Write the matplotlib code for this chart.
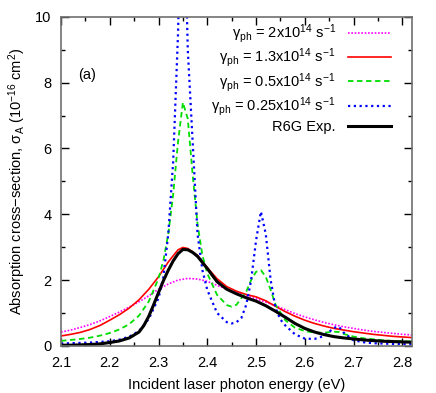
import matplotlib
matplotlib.use("Agg")
import matplotlib.pyplot as plt
from matplotlib.ticker import MultipleLocator

plt.rcParams['font.family'] = ['Liberation Sans', 'DejaVu Sans']
plt.rcParams['mathtext.fontset'] = 'custom'
plt.rcParams['mathtext.rm'] = 'Liberation Sans'
plt.rcParams['mathtext.it'] = 'Liberation Sans:italic'
plt.rcParams['font.size'] = 10

# energies (eV) and cross-sections (1e-16 cm^2)
e_pink = [2.10, 2.12, 2.14, 2.16, 2.18, 2.20, 2.22, 2.24, 2.26, 2.28, 2.30, 2.32, 2.34, 2.36,
          2.38, 2.40, 2.42, 2.44, 2.46, 2.48, 2.50, 2.52, 2.54, 2.56, 2.58, 2.60, 2.62, 2.64,
          2.66, 2.68, 2.70, 2.72, 2.74, 2.76, 2.78, 2.80, 2.82]
s_pink = [0.42, 0.48, 0.56, 0.65, 0.76, 0.89, 1.03, 1.18, 1.34, 1.52, 1.72, 1.88, 2.00, 2.05,
          2.03, 1.96, 1.84, 1.72, 1.62, 1.52, 1.43, 1.33, 1.22, 1.10, 0.98, 0.88, 0.79, 0.71,
          0.64, 0.58, 0.53, 0.48, 0.44, 0.41, 0.38, 0.35, 0.33]

e_red = [2.10, 2.12, 2.14, 2.16, 2.18, 2.20, 2.22, 2.24, 2.26, 2.28, 2.30, 2.32, 2.34, 2.35,
         2.36, 2.38, 2.40, 2.42, 2.44, 2.46, 2.48, 2.50, 2.52, 2.54, 2.56, 2.58, 2.60, 2.62,
         2.64, 2.66, 2.68, 2.70, 2.72, 2.74, 2.76, 2.78, 2.80, 2.82]
s_red = [0.30, 0.35, 0.41, 0.50, 0.62, 0.78, 0.95, 1.15, 1.40, 1.72, 2.10, 2.55, 2.92, 2.99,
         2.96, 2.75, 2.38, 2.04, 1.80, 1.66, 1.56, 1.49, 1.37, 1.20, 1.04, 0.90, 0.78, 0.68,
         0.60, 0.53, 0.48, 0.43, 0.39, 0.35, 0.32, 0.29, 0.27, 0.25]

e_green = [2.10, 2.12, 2.14, 2.16, 2.18, 2.20, 2.22, 2.24, 2.26, 2.28, 2.30, 2.31, 2.32, 2.33,
           2.34, 2.35, 2.36, 2.37, 2.38, 2.39, 2.40, 2.42, 2.44, 2.45, 2.46, 2.48, 2.49, 2.50,
           2.51, 2.52, 2.53, 2.54, 2.56, 2.58, 2.60, 2.62, 2.64, 2.66, 2.67, 2.68, 2.70, 2.72,
           2.74, 2.76, 2.78, 2.80, 2.82]
s_green = [0.15, 0.18, 0.21, 0.25, 0.31, 0.39, 0.50, 0.66, 0.92, 1.35, 2.05, 2.60, 3.40, 4.60,
           6.20, 7.40, 6.90, 5.20, 3.70, 2.75, 2.20, 1.55, 1.24, 1.19, 1.25, 1.65, 2.00, 2.25,
           2.30, 2.10, 1.70, 1.25, 0.78, 0.55, 0.45, 0.40, 0.40, 0.43, 0.42, 0.36, 0.28, 0.23,
           0.20, 0.17, 0.15, 0.14, 0.13]

e_blue = [2.10, 2.12, 2.14, 2.16, 2.18, 2.20, 2.22, 2.24, 2.26, 2.28, 2.30, 2.31, 2.32, 2.33,
          2.34, 2.345, 2.35, 2.355, 2.36, 2.37, 2.38, 2.39, 2.40, 2.42, 2.44, 2.45, 2.46, 2.47,
          2.48, 2.49, 2.50, 2.51, 2.52, 2.53, 2.54, 2.55, 2.56, 2.58, 2.60, 2.62, 2.64, 2.66,
          2.67, 2.68, 2.70, 2.72, 2.74, 2.76, 2.78, 2.80, 2.82]
s_blue = [0.07, 0.08, 0.09, 0.10, 0.12, 0.14, 0.19, 0.28, 0.45, 0.82, 1.45, 2.10, 3.40, 5.60,
          9.50, 12.5, 13.5, 12.0, 9.00, 6.20, 3.40, 2.30, 1.70, 1.00, 0.72, 0.68, 0.72, 0.85,
          1.25, 2.00, 3.20, 4.08, 3.40, 2.00, 1.15, 0.80, 0.62, 0.35, 0.22, 0.21, 0.30, 0.55,
          0.58, 0.40, 0.17, 0.11, 0.08, 0.07, 0.06, 0.05, 0.05]

e_exp = [2.10, 2.12, 2.14, 2.16, 2.18, 2.20, 2.22, 2.24, 2.26, 2.27, 2.28, 2.29, 2.30, 2.31,
         2.32, 2.33, 2.34, 2.35, 2.36, 2.37, 2.38, 2.40, 2.42, 2.44, 2.46, 2.48, 2.50, 2.52,
         2.54, 2.56, 2.58, 2.60, 2.62, 2.64, 2.66, 2.68, 2.70, 2.72, 2.74, 2.76, 2.78, 2.80, 2.82]
s_exp = [0.02, 0.02, 0.03, 0.04, 0.06, 0.10, 0.15, 0.24, 0.42, 0.62, 0.90, 1.25, 1.62, 1.98,
         2.30, 2.58, 2.80, 2.93, 2.92, 2.84, 2.72, 2.35, 1.95, 1.72, 1.58, 1.46, 1.36, 1.22,
         1.05, 0.87, 0.68, 0.53, 0.42, 0.34, 0.28, 0.24, 0.21, 0.18, 0.16, 0.14, 0.13, 0.12, 0.11]

labels = ['γ$_{\\rm ph}$ = 2x10$^{14}$ s$^{-1}$',
          'γ$_{\\rm ph}$ = 1.3x10$^{14}$ s$^{-1}$',
          'γ$_{\\rm ph}$ = 0.5x10$^{14}$ s$^{-1}$',
          'γ$_{\\rm ph}$ = 0.25x10$^{14}$ s$^{-1}$',
          'R6G Exp.']

fig = plt.figure(figsize=(4.36, 3.93), dpi=100)
ax = fig.add_axes([0.140, 0.120, 0.805, 0.837])

ax.plot(e_pink, s_pink, color='#ff00ff', ls=(0, (1, 1)), lw=1.2, label=labels[0])
ax.plot(e_red, s_red, color='#ff0000', ls='-', lw=1.2, label=labels[1])
ax.plot(e_green, s_green, color='#00dd00', ls=(0, (3, 2)), lw=1.3, label=labels[2])
ax.plot(e_blue, s_blue, color='#0000ff', ls=(0, (1, 1.6)), lw=1.6, label=labels[3])
ax.plot(e_exp, s_exp, color='black', ls='-', lw=2.2, label=labels[4])

ax.set_xlim(2.1, 2.82)
ax.set_ylim(0, 10)
ax.xaxis.set_major_locator(MultipleLocator(0.1))
ax.xaxis.set_minor_locator(MultipleLocator(0.05))
ax.yaxis.set_major_locator(MultipleLocator(2))
ax.yaxis.set_minor_locator(MultipleLocator(1))
ax.tick_params(which='both', direction='in', top=True, right=True, labelsize=10.5)
ax.tick_params(which='major', length=6, width=1)
ax.tick_params(which='minor', length=3, width=1)
ax.tick_params(axis='x', which='major', pad=7)
ax.tick_params(axis='y', which='major', pad=7)
for sp in ax.spines.values():
    sp.set_color('#707070')
    sp.set_linewidth(1.2)

ax.set_xlabel('Incident laser photon energy (eV)', fontsize=10.5, labelpad=6)
ax.set_ylabel('Absorption cross\u2212section, σ$_{\\rm A}$ (10$^{-16}$ cm$^{2}$)', fontsize=10.5, labelpad=5)

ax.text(0.05, 0.81, '(a)', transform=ax.transAxes, fontsize=10.5)

ax.legend(loc='upper right', frameon=False, markerfirst=False, fontsize=10.5,
          handlelength=3.0, handletextpad=0.8, labelspacing=0.1,
          borderaxespad=0.3, bbox_to_anchor=(0.97, 1.015))

fig.savefig('out.png', dpi=100)
